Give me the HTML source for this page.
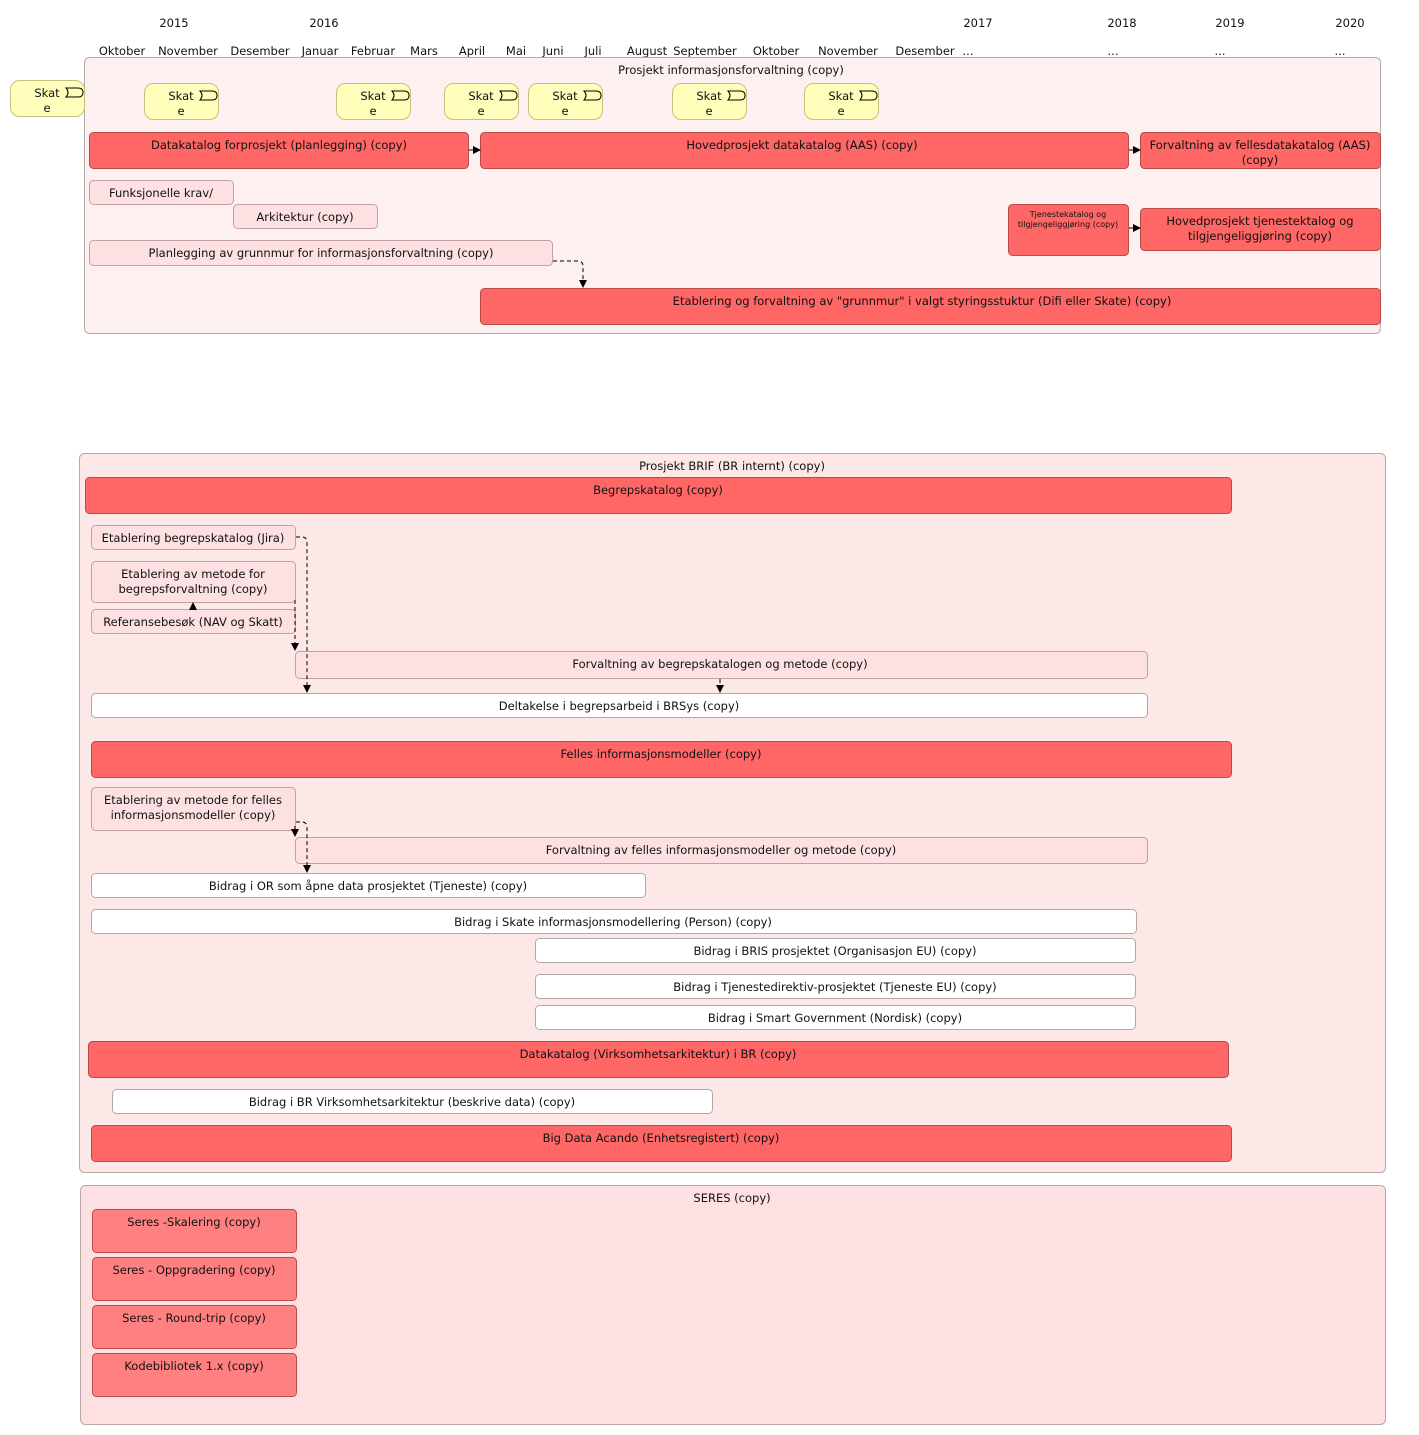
<!DOCTYPE html>
<html><head><meta charset="utf-8"><style>
html,body{margin:0;padding:0;background:#fff;}
svg{display:block;}
text{font-family:"DejaVu Sans","Liberation Sans",sans-serif;font-size:11.5px;fill:#111;text-anchor:middle;}
.r{fill:#ff6666;stroke:#b94a4a;}
.p{fill:#fde0e2;stroke:#c4a0a4;}
.w{fill:#fff;stroke:#b0a8a8;}
.y{fill:#ffffbb;stroke:#c8c07a;}
.s{fill:#ff8080;stroke:#b94a4a;}
.d{stroke:#000;fill:none;stroke-dasharray:4,3;}
</style></head><body>
<svg width="1419" height="1435" viewBox="0 0 1419 1435" xmlns="http://www.w3.org/2000/svg">
<defs><marker id="a" markerWidth="8" markerHeight="8" refX="7" refY="4" orient="auto" markerUnits="userSpaceOnUse"><path d="M0,0 L8,4 L0,8 z" fill="#000"/></marker></defs>
<text x="174" y="27">2015</text><text x="324" y="27">2016</text><text x="978" y="27">2017</text><text x="1122" y="27">2018</text><text x="1230" y="27">2019</text><text x="1350" y="27">2020</text>
<g>
<text x="122" y="55">Oktober</text><text x="188" y="55">November</text><text x="260" y="55">Desember</text><text x="320" y="55">Januar</text><text x="373" y="55">Februar</text><text x="424" y="55">Mars</text><text x="472" y="55">April</text><text x="516" y="55">Mai</text><text x="553" y="55">Juni</text><text x="593" y="55">Juli</text><text x="647" y="55">August</text><text x="705" y="55">September</text><text x="776" y="55">Oktober</text><text x="848" y="55">November</text><text x="925" y="55">Desember</text><text x="968" y="55">...</text><text x="1113" y="55">...</text><text x="1220" y="55">...</text><text x="1340" y="55">...</text>
</g>
<rect x="84.5" y="57.5" width="1296" height="276" rx="5" fill="#fdf0f0" stroke="#b8a8a8"/>
<text x="731" y="74">Prosjekt informasjonsforvaltning (copy)</text>
<g id="sk">
<rect x="10.5" y="80.5" width="74" height="36" rx="9" class="y"/>
<text x="47" y="97">Skat</text><text x="47" y="112">e</text>
<path d="M66,88 L78,88 Q83,88 83,92.5 Q83,97 78,97 L66,97 Q70,92.5 66,88 z" fill="none" stroke="#000" stroke-width="1"/>
</g>
<use href="#sk" x="134" y="3"/><use href="#sk" x="326" y="3"/><use href="#sk" x="434" y="3"/><use href="#sk" x="518" y="3"/><use href="#sk" x="662" y="3"/><use href="#sk" x="794" y="3"/>
<rect x="89.5" y="132.5" width="379" height="36" rx="4" class="r"/><text x="279" y="149">Datakatalog forprosjekt (planlegging) (copy)</text>
<rect x="480.5" y="132.5" width="648" height="36" rx="4" class="r"/><text x="802" y="149">Hovedprosjekt datakatalog (AAS) (copy)</text>
<rect x="1140.5" y="132.5" width="240" height="36" rx="4" class="r"/><text x="1260" y="149">Forvaltning av fellesdatakatalog (AAS)</text><text x="1260" y="164">(copy)</text>
<line x1="469" y1="150" x2="480" y2="150" stroke="#000" marker-end="url(#a)"/>
<line x1="1129" y1="150" x2="1140" y2="150" stroke="#000" marker-end="url(#a)"/>
<rect x="89.5" y="180.5" width="144" height="24" rx="4" class="p"/><text x="161" y="197">Funksjonelle krav/</text>
<rect x="233.5" y="204.5" width="144" height="24" rx="4" class="p"/><text x="305" y="221">Arkitektur (copy)</text>
<rect x="89.5" y="240.5" width="463" height="25" rx="4" class="p"/><text x="321" y="257">Planlegging av grunnmur for informasjonsforvaltning (copy)</text>
<rect x="1008.5" y="204.5" width="120" height="51" rx="4" class="r"/><text x="1068" y="217" style="font-size:8px">Tjenestekatalog og</text><text x="1068" y="227" style="font-size:8px">tilgjengeliggjøring (copy)</text>
<rect x="1140.5" y="208.5" width="240" height="42" rx="4" class="r"/><text x="1260" y="225">Hovedprosjekt tjenestektalog og</text><text x="1260" y="240">tilgjengeliggjøring (copy)</text>
<line x1="1129" y1="228" x2="1140" y2="228" stroke="#000" marker-end="url(#a)"/>
<rect x="480.5" y="288.5" width="900" height="36" rx="4" class="r"/><text x="922" y="305">Etablering og forvaltning av "grunnmur" i valgt styringsstuktur (Difi eller Skate) (copy)</text>
<path d="M553,261 L579,261 Q583,262 583,266 L583,287" class="d" marker-end="url(#a)"/>
<rect x="79.5" y="453.5" width="1306" height="719" rx="5" fill="#fde8e8" stroke="#b8a8a8"/>
<text x="732" y="470">Prosjekt BRIF (BR internt) (copy)</text>
<rect x="85.5" y="477.5" width="1146" height="36" rx="4" class="r"/><text x="658" y="494">Begrepskatalog (copy)</text>
<rect x="91.5" y="525.5" width="204" height="24" rx="4" class="p"/><text x="193" y="542">Etablering begrepskatalog (Jira)</text>
<rect x="91.5" y="561.5" width="204" height="41" rx="4" class="p"/><text x="193" y="578">Etablering av metode for</text><text x="193" y="593">begrepsforvaltning (copy)</text>
<rect x="91.5" y="609.5" width="204" height="24" rx="4" class="p"/><text x="193" y="626">Referansebesøk (NAV og Skatt)</text>
<line x1="193" y1="609" x2="193" y2="603" stroke="#000" marker-end="url(#a)"/>
<rect x="295.5" y="651.5" width="852" height="27" rx="4" class="p"/><text x="720" y="668">Forvaltning av begrepskatalogen og metode (copy)</text>
<rect x="91.5" y="693.5" width="1056" height="24" rx="4" class="w"/><text x="619" y="710">Deltakelse i begrepsarbeid i BRSys (copy)</text>
<path d="M296,537 L303,537 Q307,538 307,542 L307,692" class="d" marker-end="url(#a)"/>
<path d="M295,600 L295,650" class="d" marker-end="url(#a)"/>
<path d="M720,679 L720,692" class="d" marker-end="url(#a)"/>
<rect x="91.5" y="741.5" width="1140" height="36" rx="4" class="r"/><text x="661" y="758">Felles informasjonsmodeller (copy)</text>
<rect x="91.5" y="787.5" width="204" height="43" rx="4" class="p"/><text x="193" y="804">Etablering av metode for felles</text><text x="193" y="819">informasjonsmodeller (copy)</text>
<rect x="295.5" y="837.5" width="852" height="26" rx="4" class="p"/><text x="721" y="854">Forvaltning av felles informasjonsmodeller og metode (copy)</text>
<rect x="91.5" y="873.5" width="554" height="24" rx="4" class="w"/><text x="368" y="890">Bidrag i OR som åpne data prosjektet (Tjeneste) (copy)</text>
<path d="M296,822 L303,822 Q307,823 307,827 L307,872" class="d" marker-end="url(#a)"/>
<path d="M295,826 L295,836" class="d" marker-end="url(#a)"/>
<rect x="91.5" y="909.5" width="1045" height="24" rx="4" class="w"/><text x="613" y="926">Bidrag i Skate informasjonsmodellering (Person) (copy)</text>
<rect x="535.5" y="938.5" width="600" height="24" rx="4" class="w"/><text x="835" y="955">Bidrag i BRIS prosjektet (Organisasjon EU) (copy)</text>
<rect x="535.5" y="974.5" width="600" height="24" rx="4" class="w"/><text x="835" y="991">Bidrag i Tjenestedirektiv-prosjektet (Tjeneste EU) (copy)</text>
<rect x="535.5" y="1005.5" width="600" height="24" rx="4" class="w"/><text x="835" y="1022">Bidrag i Smart Government (Nordisk) (copy)</text>
<rect x="88.5" y="1041.5" width="1140" height="36" rx="4" class="r"/><text x="658" y="1058">Datakatalog (Virksomhetsarkitektur) i BR (copy)</text>
<rect x="112.5" y="1089.5" width="600" height="24" rx="4" class="w"/><text x="412" y="1106">Bidrag i BR Virksomhetsarkitektur (beskrive data) (copy)</text>
<rect x="91.5" y="1125.5" width="1140" height="36" rx="4" class="r"/><text x="661" y="1142">Big Data Acando (Enhetsregistert) (copy)</text>
<rect x="80.5" y="1185.5" width="1305" height="239" rx="5" fill="#fde0e2" stroke="#b8a8a8"/>
<text x="732" y="1202">SERES (copy)</text>
<rect x="92.5" y="1209.5" width="204" height="43" rx="4" class="s"/><text x="194" y="1226">Seres -Skalering (copy)</text>
<rect x="92.5" y="1257.5" width="204" height="43" rx="4" class="s"/><text x="194" y="1274">Seres - Oppgradering (copy)</text>
<rect x="92.5" y="1305.5" width="204" height="43" rx="4" class="s"/><text x="194" y="1322">Seres - Round-trip (copy)</text>
<rect x="92.5" y="1353.5" width="204" height="43" rx="4" class="s"/><text x="194" y="1370">Kodebibliotek 1.x (copy)</text>
</svg>
</body></html>
